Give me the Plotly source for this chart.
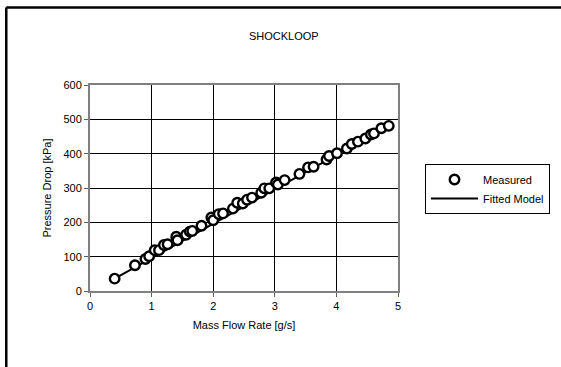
import plotly.graph_objects as go

# Measured data
meas_x = [0.40, 0.73, 0.90, 0.96, 1.05, 1.12, 1.20, 1.26, 1.40, 1.42, 1.56, 1.62, 1.66,
          1.81, 1.97, 2.00, 2.09, 2.16, 2.32, 2.39, 2.48, 2.55, 2.63, 2.78, 2.83, 2.91,
          3.02, 3.05, 3.16, 3.40, 3.54, 3.63, 3.84, 3.88, 4.01, 4.17, 4.25, 4.35, 4.47,
          4.56, 4.61, 4.73, 4.85]
meas_y = [36, 75, 93, 101, 119, 119, 134, 136, 158, 148, 164, 173, 175,
          190, 214, 206, 224, 226, 240, 257, 255, 266, 272, 286, 299, 299,
          316, 310, 323, 341, 360, 362, 383, 393, 401, 415, 428, 435, 444,
          456, 459, 474, 481]

# Fitted model
fit_x = [0.40, 1.0, 2.0, 3.0, 4.0, 4.85]
fit_y = [36, 96, 196, 296, 396, 481]

x_ticks = [0, 1, 2, 3, 4, 5]
y_ticks = [0, 100, 200, 300, 400, 500, 600]

FONT = "Liberation Sans, Arial, sans-serif"

fig = go.Figure()
fig.add_trace(go.Scatter(
    x=fit_x, y=fit_y, mode="lines", name="Fitted Model",
    line=dict(color="black", width=2),
))
fig.add_trace(go.Scatter(
    x=meas_x, y=meas_y, mode="markers", name="Measured",
    marker=dict(symbol="circle", size=9.5, color="white",
                line=dict(color="black", width=2.4)),
))

W, H = 561, 367
L, R, T, B = 90, 162, 85, 76
pw, ph = W - L - R, H - T - B

def px(xp):
    return (xp - L) / pw

def py(yp):
    return (H - B - yp) / ph

fig.update_layout(
    width=W, height=H,
    margin=dict(l=L, r=R, t=T, b=B),
    paper_bgcolor="white", plot_bgcolor="white",
    font=dict(family=FONT, size=11, color="black"),
    showlegend=True,
    legend=dict(
        x=px(425), y=py(164), xanchor="left", yanchor="top",
        bordercolor="black", borderwidth=1, bgcolor="white",
        font=dict(family=FONT, size=11, color="black"),
        traceorder="reversed", itemwidth=47,
    ),
    annotations=[
        dict(text="SHOCKLOOP", x=px(285), y=py(35.5), xref="paper", yref="paper",
             xanchor="center", yanchor="middle", showarrow=False,
             font=dict(family=FONT, size=11, color="black")),
    ],
    shapes=[
        dict(type="line", xref="paper", yref="paper",
             x0=px(6), x1=px(570), y0=py(7.5), y1=py(7.5),
             line=dict(color="black", width=2.5)),
        dict(type="line", xref="paper", yref="paper",
             x0=px(6), x1=px(6), y0=py(7.5), y1=py(380),
             line=dict(color="black", width=2.5)),
    ],
)

fig.update_xaxes(
    range=[0, 5], tickvals=x_ticks, ticktext=[str(v) for v in x_ticks],
    showgrid=True, gridcolor="black", gridwidth=1,
    showline=True, linecolor="#808080", linewidth=2, mirror=True,
    ticks="outside", ticklen=4, tickcolor="#606060",
    zeroline=False,
    title=dict(text="Mass Flow Rate [g/s]", standoff=10,
               font=dict(family=FONT, size=11, color="black")),
    tickfont=dict(family=FONT, size=11, color="black"),
)
fig.update_yaxes(
    range=[0, 600], tickvals=y_ticks, ticktext=[str(v) for v in y_ticks],
    showgrid=True, gridcolor="black", gridwidth=1,
    showline=True, linecolor="#808080", linewidth=2, mirror=True,
    ticks="outside", ticklen=4, tickcolor="#606060",
    zeroline=False,
    title=dict(text="Pressure Drop [kPa]", standoff=10,
               font=dict(family=FONT, size=11, color="black")),
    tickfont=dict(family=FONT, size=11, color="black"),
)

fig.write_html("out.html", config={"displayModeBar": False},
               post_script="document.body.style.margin='0';document.body.style.overflow='hidden';")
